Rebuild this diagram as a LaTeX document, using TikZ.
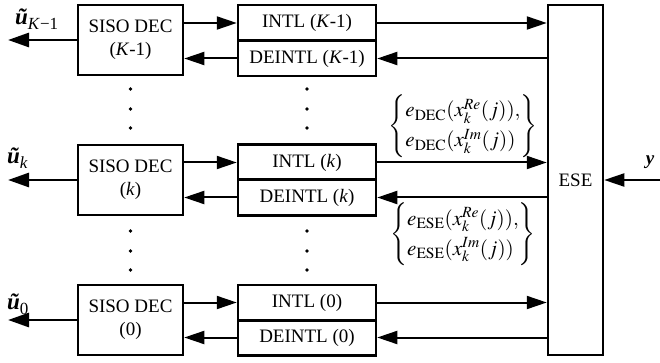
\documentclass[tikz,border=0pt]{standalone}
\usepackage{mathptmx}
\usepackage{fontspec}
\setmainfont{Liberation Serif}
\usetikzlibrary{arrows.meta}

% bold italic vector symbol with a lowered subscript, set as text
\newcommand{\vecsub}[2]{{\fontsize{23}{26}\selectfont\textbf{\textit{#1}}}\raisebox{-5pt}{\fontsize{17}{19}\selectfont #2}}

\begin{document}
\begin{tikzpicture}[x=1pt,y=-1pt,
  font=\fontsize{19}{23}\selectfont,
  frame/.style={draw,line width=2.5pt,inner sep=0pt,align=center},
  decbox/.style={frame,minimum width=105pt,minimum height=70pt},
  ilbox/.style={frame,minimum width=138pt,minimum height=35.5pt},
  arr/.style={line width=2pt,-{Triangle[length=20pt,width=13pt]}},
  outarr/.style={line width=2.8pt,-{Triangle[length=21pt,width=14pt]}},
  dot/.style={circle,fill,inner sep=0pt,minimum size=3.6pt},
  extr/.style={font=\fontsize{21}{25}\selectfont,inner sep=1pt}]
\useasboundingbox (0,0) rectangle (660,363);

% equalizer / state estimator
\node[frame,minimum width=55pt,minimum height=350pt] (ese) at (575.5,180) {ESE};

% decoder rows
\node[decbox] (dec2) at (130.5,40)  {SISO DEC\\(\textit{K}-1)};
\node[decbox] (dec1) at (130.5,180) {SISO DEC\\(\textit{k})};
\node[decbox] (dec0) at (130.5,320) {SISO DEC\\(0)};

% interleaver / deinterleaver pairs
\node[ilbox] (il2) at (307,23)    {INTL (\textit{K}-1)};
\node[ilbox] (dl2) at (307,58.5)  {DEINTL (\textit{K}-1)};
\node[ilbox] (il1) at (307,162.5) {INTL (\textit{k})};
\node[ilbox] (dl1) at (307,197.5) {DEINTL (\textit{k})};
\node[ilbox] (il0) at (307,302.5) {INTL (0)};
\node[ilbox] (dl0) at (307,337.5) {DEINTL (0)};

% forward and backward paths
\foreach \d/\i/\l in {dec2/il2/dl2, dec1/il1/dl1, dec0/il0/dl0}{
  \draw[arr] (\d.east |- \i.west) -- (\i.west);
  \draw[arr] (\i.east) -- (\i.east -| ese.west);
  \draw[arr] (\l.east -| ese.west) -- (\l.east);
  \draw[arr] (\l.west) -- (\l.west -| \d.east);
}

% decoded outputs
\coordinate (o2) at (8,40);
\coordinate (o1) at (8,180);
\coordinate (o0) at (8,320);
\draw[outarr] (dec2.west) -- (o2);
\draw[outarr] (dec1.west) -- (o1);
\draw[outarr] (dec0.west) -- (o0);
\node[anchor=base west,inner sep=0pt] (u2) at (15,25)  {\vecsub{ũ}{\textit{K}−1}};
\node[anchor=base west,inner sep=0pt] (u1) at (7,164)  {\vecsub{ũ}{\textit{k}}};
\node[anchor=base west,inner sep=0pt] (u0) at (7,309)  {\vecsub{ũ}{0}};

% received signal
\coordinate (yin) at (660,180);
\draw[arr] (yin) -- (ese.east);
\node[inner sep=0pt] (ylab) at (650,162) {\textbf{\textit{y}}};

% vertical ellipses
\foreach \x in {130.5,307}{
  \foreach \y in {89,109,128,231,251,270}{
    \node[dot] at (\x,\y) {};
  }
}

% exchanged extrinsic information
\node[extr] (edec) at (463,126) {\def\arraystretch{1.2}$\left\{\begin{array}{@{}l@{}}
  e_{\mathrm{DEC}}(x_k^{Re}(j)),\\
  e_{\mathrm{DEC}}(x_k^{Im}(j))
\end{array}\right\}$};
\node[extr] (eese) at (463,234) {\def\arraystretch{1.2}$\left\{\begin{array}{@{}l@{}}
  e_{\mathrm{ESE}}(x_k^{Re}(j)),\\
  e_{\mathrm{ESE}}(x_k^{Im}(j))
\end{array}\right\}$};
\end{tikzpicture}
\end{document}
